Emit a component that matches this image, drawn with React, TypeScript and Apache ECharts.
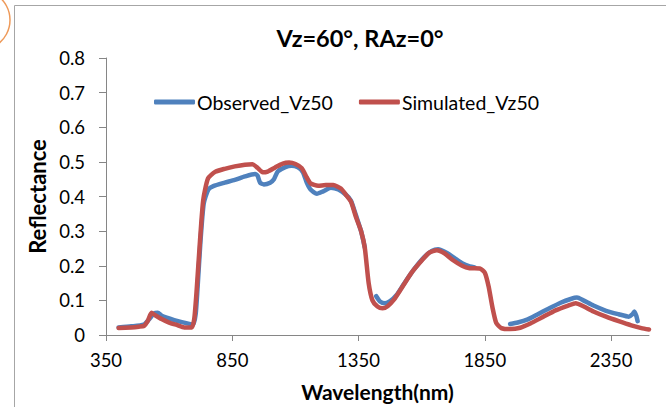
import React, { useEffect, useRef } from "react";
import * as echarts from "echarts";

const titleText = "Vz=60°, RAz=0°";
const xAxisName = "Wavelength(nm)";
const yAxisName = "Reflectance";
const xTickValues = [350, 850, 1350, 1850, 2350];
const seriesNames = ["Observed_Vz50", "Simulated_Vz50"];

const obsWavelengths = [
  400, 450, 500, 520, 540, 555, 570, 590, 620, 650, 680, 695, 705, 712, 724, 737, 755, 775, 820, 860, 900, 940, 950, 960,
  975, 1000, 1015, 1030, 1060, 1085, 1110, 1130, 1145, 1160, 1185, 1210, 1240, 1270, 1300, 1320, 1340, 1360, 1375,
  1400,
  1420, 1435, 1455, 1475, 1500, 1530, 1570, 1610, 1640, 1665, 1700, 1730, 1760, 1790, 1810,
  1880,
  1950, 1980, 2020, 2060, 2100, 2150, 2190, 2215, 2240, 2280, 2330, 2380, 2420, 2435, 2442, 2450, 2455,
];
const obsValues: (number | null)[] = [
  0.022, 0.025, 0.03, 0.045, 0.062, 0.064, 0.056, 0.05, 0.043, 0.037, 0.032, 0.03, 0.06, 0.13, 0.27, 0.38, 0.42, 0.43, 0.44, 0.448, 0.458, 0.465, 0.46, 0.44,
  0.435, 0.44, 0.45, 0.472, 0.485, 0.489, 0.484, 0.47, 0.44, 0.42, 0.408, 0.415, 0.425, 0.42, 0.405, 0.388, 0.345, 0.3, 0.252,
  null,
  0.112, 0.097, 0.092, 0.098, 0.115, 0.148, 0.19, 0.225, 0.243, 0.248, 0.237, 0.222, 0.207, 0.198, 0.195,
  null,
  0.032, 0.036, 0.045, 0.06, 0.075, 0.093, 0.104, 0.108, 0.1, 0.085, 0.07, 0.06, 0.053, 0.06, 0.068, 0.055, 0.04,
];

const simWavelengths = [
  400, 450, 480, 500, 515, 530, 545, 570, 600, 630, 660, 690, 700, 709, 722, 735, 754, 782, 820, 860, 900, 930, 950, 970,
  990, 1020, 1050, 1075, 1100, 1125, 1145, 1160, 1190, 1220, 1250, 1280, 1300, 1320, 1340, 1360, 1375, 1390, 1405,
  1425, 1445, 1465, 1490, 1520, 1560, 1600, 1630, 1660, 1690, 1720, 1760, 1790, 1830, 1850, 1865, 1880, 1895, 1915,
  1950, 1990, 2030, 2080, 2130, 2180, 2210, 2240, 2280, 2330, 2380, 2430, 2470, 2500,
];
const simValues = [
  0.02, 0.022, 0.024, 0.026, 0.04, 0.064, 0.057, 0.046, 0.036, 0.029, 0.022, 0.022, 0.05, 0.13, 0.27, 0.39, 0.452, 0.471, 0.48, 0.487, 0.492, 0.493, 0.483, 0.47,
  0.472, 0.484, 0.495, 0.498, 0.494, 0.482, 0.455, 0.438, 0.431, 0.433, 0.433, 0.423, 0.405, 0.385, 0.34, 0.3, 0.25, 0.15, 0.1,
  0.082, 0.077, 0.083, 0.102, 0.135, 0.18, 0.215, 0.238, 0.245, 0.236, 0.218, 0.2, 0.193, 0.192, 0.18, 0.14, 0.08, 0.035, 0.02,
  0.017, 0.021, 0.033, 0.052, 0.071, 0.085, 0.092, 0.083, 0.068, 0.053, 0.04, 0.028, 0.02, 0.016,
];

const FONT = "Lato, 'Open Sans', sans-serif";

export default function App() {
  const ref = useRef<HTMLDivElement>(null);
  useEffect(() => {
    if (!ref.current) return;
    const chart = echarts.init(ref.current, undefined, { renderer: "svg" });
    const obsData = obsWavelengths.map((w, i) => [w, obsValues[i]]);
    const simData = simWavelengths.map((w, i) => [w, simValues[i]]);
    chart.setOption({
      animation: false,
      backgroundColor: "#ffffff",
      title: {
        text: titleText,
        left: 355,
        top: 21,
        textAlign: "center",
        textStyle: { fontFamily: FONT, fontSize: 23.5, fontWeight: "bold", color: "#000" },
      },
      legend: {
        left: 149,
        top: 87,
        itemWidth: 41,
        itemHeight: 5,
        itemGap: 26,
        icon: "roundRect",
        data: seriesNames,
        textStyle: { fontFamily: FONT, fontSize: 19.5, color: "#000", padding: [0, 0, 0, -3] },
      },
      grid: { left: 106, right: 17, top: 58, bottom: 72, containLabel: false },
      xAxis: {
        type: "value",
        min: 350,
        max: 2500,
        name: xAxisName,
        nameLocation: "middle",
        nameGap: 46,
        nameTextStyle: { fontFamily: FONT, fontSize: 21, fontWeight: "bold", color: "#000" },
        axisLine: { show: true, lineStyle: { color: "#868686", width: 1 } },
        axisTick: { show: true, customValues: xTickValues, length: 6, lineStyle: { color: "#868686" } },
        axisLabel: {
          customValues: xTickValues,
          formatter: (v: number) => String(v),
          fontFamily: FONT,
          fontSize: 18.5,
          color: "#000",
          margin: 15,
        },
        splitLine: { show: false },
      },
      yAxis: {
        type: "value",
        min: 0,
        max: 0.8,
        interval: 0.1,
        name: yAxisName,
        nameLocation: "middle",
        nameGap: 56,
        nameTextStyle: { fontFamily: FONT, fontSize: 22, fontWeight: "bold", color: "#000" },
        axisLine: { show: true, lineStyle: { color: "#868686", width: 1 } },
        axisTick: { show: true, length: 7, lineStyle: { color: "#868686" } },
        axisLabel: { fontFamily: FONT, fontSize: 18.5, color: "#000", margin: 21 },
        splitLine: { show: false },
      },
      graphic: [
        {
          type: "rect",
          silent: true,
          shape: { x: 14.5, y: 5.5, width: 700, height: 500 },
          style: { fill: "none", stroke: "#a6a6a6", lineWidth: 1 },
        },
        {
          type: "circle",
          silent: true,
          shape: { cx: -20, cy: 20, r: 30 },
          style: { fill: "none", stroke: "#ee9a5a", lineWidth: 1.5 },
        },
      ],
      series: [
        {
          name: seriesNames[0],
          type: "line",
          data: obsData,
          showSymbol: false,
          connectNulls: false,
          smooth: 0.2,
          lineStyle: { color: "#4f81bd", width: 4.5, cap: "round", join: "round" },
          itemStyle: { color: "#4f81bd" },
        },
        {
          name: seriesNames[1],
          type: "line",
          data: simData,
          showSymbol: false,
          smooth: 0.2,
          lineStyle: { color: "#c0504d", width: 4.5, cap: "round", join: "round" },
          itemStyle: { color: "#c0504d" },
        },
      ],
    });
    return () => chart.dispose();
  }, []);
  return (
    <div
      ref={ref}
      style={{ position: "fixed", left: 0, top: 0, width: 666, height: 407, background: "#fff" }}
    />
  );
}
